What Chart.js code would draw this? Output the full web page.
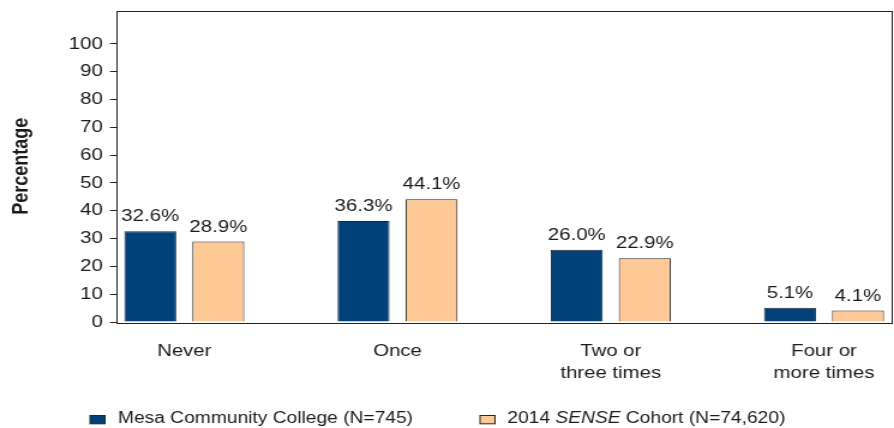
<!DOCTYPE html>
<html>
<head>
<meta charset="utf-8">
<script src="https://cdn.jsdelivr.net/npm/chart.js@4/dist/chart.umd.min.js"></script>
<style>
  html, body { margin: 0; padding: 0; background: #fff; overflow: hidden; }
  #wrap { position: absolute; left: 0; top: 0; width: 745px; height: 428px;
          transform: scaleX(1.2); transform-origin: 0 0; }
</style>
</head>
<body>
<div id="wrap"><canvas id="c"></canvas></div>
<script>
// ---- data ----
const categories = ['Never', 'Once', ['Two or', 'three times'], ['Four or', 'more times']];
const seriesNames = ['Mesa Community College (N=745)', '2014 SENSE Cohort (N=74,620)'];
const mesaValues = [32.6, 36.3, 26.0, 5.1];
const cohortValues = [28.9, 44.1, 22.9, 4.1];
const yTickValues = [0, 10, 20, 30, 40, 50, 60, 70, 80, 90, 100];

// ---- style ----
const FONT = '"Liberation Sans", Arial, Helvetica, sans-serif';
const TEXT = '#1a1a1a';
const BLUE = '#00417a';
const ORANGE = '#ffc995';
const EDGE = '#262626';

const toPoints = arr => arr.map((v, i) => ({ x: i, y: v }));

const frame = {
  id: 'frame',
  afterDraw(chart) {
    const { ctx, chartArea: a } = chart;
    ctx.save();
    ctx.strokeStyle = '#222';
    ctx.lineWidth = 1;
    ctx.strokeRect(Math.round(a.left) + 0.5, Math.round(a.top) + 0.5,
                   Math.round(a.right - a.left) - 1, Math.round(a.bottom - a.top));
    ctx.restore();
  }
};

const valueLabels = {
  id: 'valueLabels',
  afterDatasetsDraw(chart) {
    const { ctx } = chart;
    ctx.save();
    ctx.font = '17px ' + FONT;
    ctx.fillStyle = TEXT;
    ctx.textAlign = 'center';
    ctx.textBaseline = 'alphabetic';
    chart.data.datasets.forEach((ds, di) => {
      const meta = chart.getDatasetMeta(di);
      meta.data.forEach((bar, i) => {
        ctx.fillText(ds.data[i].y.toFixed(1) + '%', bar.x, bar.y - 10);
      });
    });
    ctx.restore();
  }
};

const customLegend = {
  id: 'customLegend',
  afterDraw(chart) {
    const { ctx } = chart;
    const base = chart.height - 5;
    ctx.save();
    ctx.textBaseline = 'alphabetic';
    ctx.textAlign = 'left';
    ctx.fillStyle = TEXT;
    const items = [
      { box: 75, text: 98.3, color: BLUE,
        parts: [{ t: 'Mesa Community College (N=745)', it: false }] },
      { box: 400, text: 422.8, color: ORANGE,
        parts: [{ t: '2014 ', it: false }, { t: 'SENSE', it: true }, { t: ' Cohort (N=74,620)', it: false }] }
    ];
    items.forEach(item => {
      ctx.fillStyle = item.color;
      ctx.fillRect(item.box, base - 7.5, 12.5, 8.3);
      ctx.strokeStyle = EDGE;
      ctx.lineWidth = 1;
      ctx.strokeRect(item.box, base - 7.5, 12.5, 8.3);
      ctx.fillStyle = TEXT;
      let x = item.text;
      item.parts.forEach(p => {
        ctx.font = (p.it ? 'italic ' : '') + '16px ' + FONT;
        ctx.fillText(p.t, x, base);
        x += ctx.measureText(p.t).width;
      });
    });
    ctx.restore();
  }
};

new Chart(document.getElementById('c'), {
  type: 'bar',
  data: {
    datasets: [
      { label: seriesNames[0], data: toPoints(mesaValues), backgroundColor: BLUE,
        borderColor: EDGE, borderWidth: 1 },
      { label: seriesNames[1], data: toPoints(cohortValues), backgroundColor: ORANGE,
        borderColor: EDGE, borderWidth: 1 }
    ]
  },
  options: {
    responsive: true,
    maintainAspectRatio: false,
    animation: false,
    categoryPercentage: 0.638,
    barPercentage: 0.764,
    layout: { padding: { top: 10.5, right: 1.5, bottom: 0, left: 0 } },
    plugins: {
      legend: { display: false },
      tooltip: { enabled: false },
      title: { display: false }
    },
    scales: {
      x: {
        type: 'linear',
        offset: false,
        min: -0.32,
        max: 3.32,
        afterBuildTicks: scale => { scale.ticks = categories.map((_, i) => ({ value: i })); },
        afterFit: scale => { scale.height = 106; scale.paddingLeft = 0; scale.paddingRight = 0; },
        grid: { display: false, drawTicks: false },
        border: { display: false },
        ticks: {
          autoSkip: false,
          maxRotation: 0,
          padding: 18,
          color: TEXT,
          font: { family: FONT, size: 17, lineHeight: 1.3 },
          callback: v => categories[v]
        }
      },
      y: {
        min: 0,
        max: 112,
        afterBuildTicks: scale => { scale.ticks = yTickValues.map(v => ({ value: v })); },
        afterFit: scale => { scale.width = 96.7; scale.paddingTop = 0; scale.paddingBottom = 0; },
        grid: { display: true, drawOnChartArea: false, drawTicks: true, tickLength: 5, color: '#222' },
        border: { display: false },
        ticks: {
          padding: 6,
          color: TEXT,
          font: { family: FONT, size: 17 }
        },
        title: {
          display: true,
          text: 'Percentage',
          color: TEXT,
          font: { family: FONT, size: 18, weight: 'bold' },
          padding: { top: 7, bottom: 0 }
        }
      }
    }
  },
  plugins: [frame, valueLabels, customLegend]
});
</script>
</body>
</html>
